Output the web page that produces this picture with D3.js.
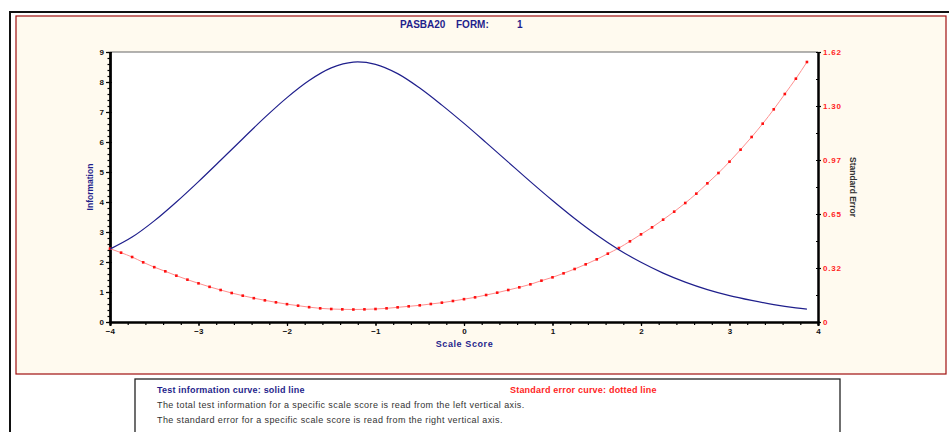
<!DOCTYPE html>
<html><head><meta charset="utf-8">
<script src="https://cdn.jsdelivr.net/npm/d3@7"></script>
<style>body{margin:0;background:#fff}svg{display:block}text{font-family:Arial,"Liberation Sans",sans-serif}</style>
</head><body>
<svg id="c" width="949" height="432"></svg>
<script>
// ---- data ----
const infoX = [-4,-3.75,-3.5,-3.25,-3,-2.75,-2.5,-2.25,-2,-1.75,-1.5,-1.25,-1,-0.75,-0.5,-0.25,0,0.25,0.5,0.75,1,1.25,1.5,1.75,2,2.25,2.5,2.75,3,3.25,3.5,3.75,3.875];
const infoY = [2.43,2.83,3.37,4.0,4.68,5.39,6.11,6.82,7.48,8.05,8.47,8.665,8.59,8.28,7.8,7.23,6.62,5.98,5.33,4.68,4.05,3.45,2.9,2.41,1.99,1.63,1.33,1.08,0.88,0.72,0.58,0.47,0.43];
const seX = [-4,-3.875,-3.75,-3.625,-3.5,-3.375,-3.25,-3.125,-3,-2.875,-2.75,-2.625,-2.5,-2.375,-2.25,-2.125,-2,-1.875,-1.75,-1.625,-1.5,-1.375,-1.25,-1.125,-1,-0.875,-0.75,-0.625,-0.5,-0.375,-0.25,-0.125,0,0.125,0.25,0.375,0.5,0.625,0.75,0.875,1,1.125,1.25,1.375,1.5,1.625,1.75,1.875,2,2.125,2.25,2.375,2.5,2.625,2.75,2.875,3,3.125,3.25,3.375,3.5,3.625,3.75,3.875];
const seY = [0.44,0.416,0.39,0.358,0.329,0.304,0.278,0.254,0.232,0.211,0.192,0.174,0.158,0.143,0.13,0.118,0.107,0.098,0.089,0.082,0.078,0.076,0.075,0.076,0.078,0.082,0.088,0.094,0.1,0.108,0.116,0.126,0.137,0.148,0.162,0.176,0.192,0.208,0.226,0.248,0.268,0.292,0.318,0.346,0.376,0.41,0.444,0.484,0.526,0.568,0.614,0.662,0.714,0.77,0.832,0.894,0.962,1.034,1.11,1.19,1.276,1.368,1.46,1.56];
const xTicks = [-4,-3,-2,-1,0,1,2,3,4];
const leftTicks = [0,1,2,3,4,5,6,7,8,9];
const rightTickVals = [0,0.324,0.648,0.972,1.296,1.62];
const rightTickLabels = ["0","0.32","0.65","0.97","1.30","1.62"];
const legendLines = ["The total test information for a specific scale score is read from the left vertical axis.",
                     "The standard error for a specific scale score is read from the right vertical axis."];

// ---- layout ----
const svg = d3.select("#c");
const L = 110, R = 818, T = 52, B = 322;
const x = d3.scaleLinear().domain([-4,4]).range([L,R]);
const yI = d3.scaleLinear().domain([0,9]).range([B,T]);
const yS = d3.scaleLinear().domain([0,1.62]).range([B,T]);
const navy = "#1f1f8c", red = "#ff1e1e";

// frames
svg.append("rect").attr("x",10).attr("y",12).attr("width",960).attr("height",440).attr("fill","#fff").attr("stroke","#111").attr("stroke-width",2);
svg.append("rect").attr("x",16).attr("y",16).attr("width",930).attr("height",358).attr("fill","#fffaef").attr("stroke","#a01010").attr("stroke-width",1.2);
// legend box
svg.append("rect").attr("x",135).attr("y",379).attr("width",705).attr("height",70).attr("fill","#fff").attr("stroke","#222").attr("stroke-width",1.3);

// title
const tg = svg.append("g").attr("font-weight","bold").attr("font-size",10).attr("fill",navy);
tg.append("text").attr("x",400).attr("y",28).text("PASBA20");
tg.append("text").attr("x",456).attr("y",28).text("FORM:");
tg.append("text").attr("x",517).attr("y",28).text("1");

// plot background
svg.append("rect").attr("x",L).attr("y",T).attr("width",R-L).attr("height",B-T).attr("fill","#fff");
svg.append("line").attr("x1",L).attr("x2",R).attr("y1",T).attr("y2",T).attr("stroke","#666").attr("stroke-width",1.2);

// axes
const axG = svg.append("g");
const bx = axG.append("g").attr("transform",`translate(0,${B})`)
  .call(d3.axisBottom(x).tickValues(xTicks).tickSize(4).tickPadding(2).tickFormat(d3.format("d")));
axG.append("g").attr("transform",`translate(0,${B})`)
  .call(d3.axisBottom(x).ticks(40).tickSize(3).tickFormat(""));
const lx = axG.append("g").attr("transform",`translate(${L},0)`)
  .call(d3.axisLeft(yI).tickValues(leftTicks).tickSizeInner(4).tickSizeOuter(0).tickPadding(2).tickFormat(d3.format("d")));
axG.append("g").attr("transform",`translate(${L},0)`)
  .call(d3.axisLeft(yI).ticks(45).tickSize(2.5).tickSizeOuter(0).tickFormat(""));
axG.append("g").attr("transform",`translate(${L},0)`)
  .call(d3.axisRight(yI).tickValues(leftTicks).tickSize(2).tickSizeOuter(0).tickFormat(""));
const rx = axG.append("g").attr("transform",`translate(${R},0)`)
  .call(d3.axisRight(yS).tickValues(rightTickVals).tickSize(3).tickSizeOuter(0).tickPadding(2).tickFormat((d,i)=>rightTickLabels[i]));
axG.append("g").attr("transform",`translate(${R},0)`)
  .call(d3.axisLeft(yS).tickValues(d3.range(0,11).map(i=>i*0.162)).tickSize(2).tickSizeOuter(0).tickFormat(""));

axG.selectAll(".domain").attr("stroke","#000").attr("stroke-width",2);
axG.selectAll(".tick line").attr("stroke","#000").attr("stroke-width",1.2);
axG.selectAll("text").attr("font-size",8).attr("font-weight","bold").attr("fill","#111").attr("font-family",'Arial,"Liberation Sans",sans-serif');
rx.selectAll("text").attr("fill",red).attr("letter-spacing",0.8);
bx.selectAll("text").attr("dy","0.8em").attr("letter-spacing",0.3);

// axis labels
svg.append("text").attr("transform","translate(92.5,187) rotate(-90)").attr("text-anchor","middle")
  .attr("font-size",8.5).attr("font-weight","bold").attr("fill",navy).text("Information");
svg.append("text").attr("transform","translate(849.5,187) rotate(90)").attr("text-anchor","middle")
  .attr("font-size",8.5).attr("font-weight","bold").attr("fill","#333").text("Standard Error");
svg.append("text").attr("x",464.5).attr("y",346.5).attr("text-anchor","middle")
  .attr("font-size",9).attr("font-weight","bold").attr("letter-spacing",0.6).attr("fill",navy).text("Scale Score");

// curves
const infoData = infoX.map((v,i)=>[v,infoY[i]]);
const seData = seX.map((v,i)=>[v,seY[i]]);
svg.append("path").datum(seData).attr("fill","none").attr("stroke","#ff8f8f").attr("stroke-width",1)
  .attr("d",d3.line().x(d=>x(d[0])).y(d=>yS(d[1])).curve(d3.curveMonotoneX));
svg.append("g").selectAll("rect").data(seData).join("rect")
  .attr("x",d=>x(d[0])-1.3).attr("y",d=>yS(d[1])-1.3).attr("width",2.6).attr("height",2.6).attr("fill","#ff1010");
svg.append("path").datum(infoData).attr("fill","none").attr("stroke",navy).attr("stroke-width",1.2)
  .attr("d",d3.line().x(d=>x(d[0])).y(d=>yI(d[1])).curve(d3.curveCatmullRom));

// legend text
svg.append("text").attr("x",157).attr("y",393).attr("font-size",9).attr("font-weight","bold").attr("letter-spacing",0.2).attr("fill",navy).text("Test information curve:  solid line");
svg.append("text").attr("x",510).attr("y",393).attr("font-size",9).attr("font-weight","bold").attr("letter-spacing",0.2).attr("fill",red).text("Standard error curve:  dotted line");
svg.append("g").selectAll("text").data(legendLines).join("text")
  .attr("x",157).attr("y",(d,i)=>408+i*14.5).attr("font-size",9).attr("letter-spacing",0.4).attr("fill","#333").text(d=>d);
</script>
</body></html>
